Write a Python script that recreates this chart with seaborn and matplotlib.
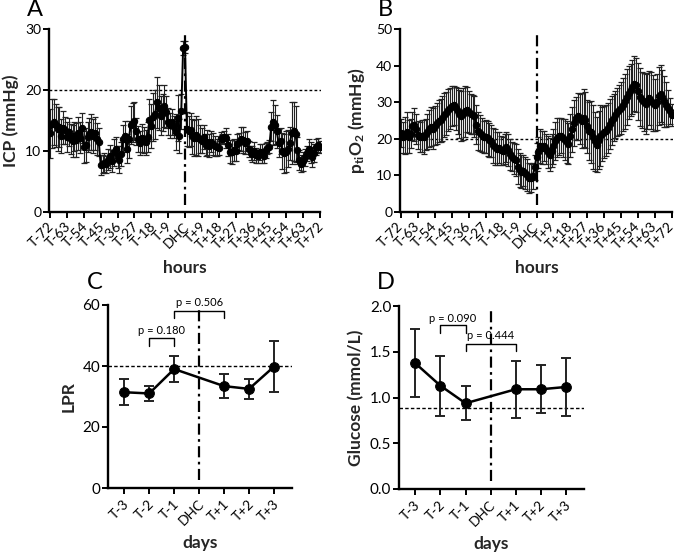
import numpy as np
import pandas as pd
import matplotlib
matplotlib.use("Agg")
import matplotlib.pyplot as plt
import matplotlib.transforms as mtransforms
import seaborn as sns

# ---------------- data ----------------
hours = list(range(-72, 73))
hour_ticks = list(range(-72, 73, 9))
hour_tick_labels = [("DHC" if h == 0 else (f"T{h}" if h < 0 else f"T+{h}")) for h in hour_ticks]

icp_mean = [
    12.9, 14.5, 14.8, 14.2, 13.6, 13.9, 12.5, 13.8, 13.4,
    12.3, 13.1, 12.0, 11.6, 12.4, 11.8, 12.9, 12.2, 13.8,
    10.6, 11.0, 12.3, 12.8, 13.1, 12.5, 12.9, 12.0, 11.4,
    7.7, 7.9, 8.1, 7.8, 8.6, 9.1, 8.4, 9.8, 10.3,
    9.0, 8.6, 9.5, 12.0, 12.5, 10.4, 11.9, 14.2, 14.6,
    14.9, 13.2, 12.0, 11.3, 12.2, 11.8, 11.4, 12.3, 15.1,
    14.1, 15.6, 16.0, 18.0, 17.1, 15.8, 16.3, 17.4, 16.4,
    14.8, 14.2, 14.8, 13.9, 13.1, 15.4, 12.4, 16.5, 26.9,
    27.1, 13.6, 13.2, 13.5, 12.4, 12.1, 12.6, 12.2, 11.9,
    11.7, 12.3, 11.0, 11.4, 10.9, 11.5, 11.2, 10.8, 10.6,
    10.5, 12.2, 12.0, 12.3, 12.1, 11.0, 9.9, 9.8, 10.1,
    10.0, 11.2, 11.5, 12.0, 11.8, 11.3, 11.6, 10.3, 9.7,
    9.5, 10.0, 9.3, 9.1, 9.8, 9.6, 9.2, 10.1, 10.5,
    10.7, 14.0, 14.7, 14.3, 13.2, 11.3, 11.6, 10.0, 9.6,
    9.9, 10.4, 11.3, 13.0, 13.2, 12.8, 10.1, 8.5, 7.9,
    8.3, 9.0, 9.6, 10.4, 9.8, 9.0, 9.7, 10.6, 11.0,
    10.7,
]
icp_err = [
    4.0, 4.0, 3.8, 3.5, 3.6, 3.3, 2.8, 2.7, 2.2,
    2.4, 2.3, 2.5, 2.6, 2.4, 2.8, 2.7, 2.6, 2.5,
    2.6, 2.8, 2.4, 2.6, 2.9, 2.8, 2.7, 2.6, 2.3,
    1.7, 1.5, 1.6, 1.4, 1.7, 1.9, 1.8, 2.2, 2.0,
    1.8, 2.2, 1.9, 2.2, 2.4, 2.4, 3.0, 3.1, 3.2,
    3.1, 2.2, 2.1, 2.0, 2.3, 2.2, 2.0, 2.5, 3.5,
    3.6, 3.9, 4.0, 4.2, 3.7, 3.2, 3.0, 3.4, 2.6,
    2.2, 2.0, 2.1, 1.8, 2.9, 3.8, 2.8, 2.9, 1.1,
    1.0, 2.8, 2.6, 2.7, 2.9, 3.0, 3.2, 3.0, 2.3,
    2.1, 1.9, 1.8, 2.0, 1.9, 1.7, 1.8, 1.6, 1.4,
    1.2, 0.9, 0.8, 1.0, 1.6, 1.8, 1.9, 2.0, 1.8,
    1.7, 1.6, 1.4, 2.0, 2.2, 1.8, 1.6, 1.3, 1.2,
    1.3, 1.4, 1.2, 1.1, 1.3, 1.5, 1.1, 1.2, 1.0,
    1.1, 2.4, 3.7, 3.2, 2.7, 2.3, 2.1, 2.9, 3.2,
    3.4, 3.0, 2.7, 5.1, 4.8, 4.6, 2.2, 1.6, 1.4,
    1.5, 1.4, 1.3, 1.6, 1.7, 1.6, 1.5, 1.3, 1.1,
    1.0,
]

pto2_mean = [
    21.5, 20.4, 20.9, 21.8, 20.5, 21.4, 23.5, 23.9, 22.6,
    21.0, 20.4, 20.8, 20.5, 21.2, 21.9, 22.8, 23.3, 22.7,
    23.6, 24.2, 24.8, 25.1, 25.6, 26.4, 27.0, 27.8, 28.3,
    28.9, 29.2, 28.3, 27.6, 26.8, 26.3, 26.9, 27.5, 28.0,
    27.3, 26.8, 26.6, 26.2, 23.9, 22.1, 21.5, 21.0, 20.5,
    20.6, 20.1, 19.7, 19.3, 18.2, 17.8, 17.3, 17.6, 16.9,
    16.6, 17.2, 17.8, 16.9, 15.8, 15.1, 14.6, 14.2, 12.4,
    11.5, 11.0, 11.3, 10.6, 10.1, 9.4, 9.2, 9.9, 12.2,
    15.0, 16.3, 18.1, 17.5, 18.0, 17.2, 16.4, 15.6, 16.8,
    17.9, 19.5, 20.3, 20.7, 20.9, 20.2, 19.8, 19.1, 18.7,
    20.8, 22.6, 24.3, 25.6, 26.1, 25.4, 24.9, 25.7, 25.2,
    23.4, 22.1, 21.8, 20.5, 19.3, 18.4, 19.6, 20.8, 21.3,
    21.9, 22.2, 23.0, 24.1, 25.0, 25.8, 26.6, 27.3, 27.8,
    28.4, 29.3, 30.2, 31.5, 32.6, 33.3, 34.1, 35.1, 34.6,
    33.0, 31.4, 30.6, 30.1, 29.5, 30.3, 31.2, 30.4, 29.8,
    29.2, 30.0, 31.6, 32.3, 31.4, 30.2, 29.3, 28.4, 27.6,
    26.5,
]
pto2_err = [
    3.8, 4.2, 5.0, 5.6, 4.5, 4.0, 3.9, 4.6, 4.1,
    3.8, 4.1, 4.4, 4.6, 4.3, 4.8, 5.1, 5.3, 5.6,
    5.4, 5.5, 5.8, 5.9, 6.1, 6.0, 5.9, 5.7, 5.6,
    5.4, 5.3, 5.8, 6.2, 6.5, 6.8, 7.1, 6.9, 6.2,
    5.8, 5.5, 5.3, 5.6, 5.4, 5.1, 4.9, 4.6, 4.3,
    4.5, 4.8, 4.6, 4.4, 4.7, 4.9, 4.5, 4.2, 4.0,
    3.8, 4.0, 4.1, 4.4, 4.2, 4.0, 4.3, 4.5, 4.7,
    4.6, 4.5, 4.2, 4.4, 4.3, 4.1, 3.8, 3.6, 3.4,
    3.9, 4.3, 4.7, 4.5, 4.2, 4.0, 4.3, 4.5, 4.6,
    4.9, 5.2, 5.4, 5.1, 4.9, 5.3, 5.6, 5.8, 5.5,
    5.9, 6.1, 6.3, 5.8, 6.4, 6.8, 7.5, 8.0, 7.6,
    7.2, 7.9, 8.4, 8.8, 8.1, 7.6, 7.9, 8.3, 7.5,
    7.1, 7.0, 6.8, 6.9, 6.7, 6.5, 6.4, 6.6, 6.8,
    7.0, 7.2, 7.4, 7.6, 7.3, 7.2, 7.4, 7.6, 7.4,
    7.8, 8.0, 7.6, 7.9, 8.1, 7.7, 7.4, 7.8, 7.6,
    7.1, 7.6, 7.9, 7.8, 7.3, 6.9, 6.1, 4.9, 3.5,
    3.1,
]

day_labels = ["T-3", "T-2", "T-1", "DHC", "T+1", "T+2", "T+3"]
day_pos = [0, 1, 2, 4, 5, 6]           # positions with data (DHC has none)
lpr_mean = [31.4, 31.0, 39.0, 33.4, 32.5, 39.8]
lpr_err = [4.2, 2.6, 4.2, 3.9, 3.3, 8.4]
glu_mean = [1.374, 1.129, 0.937, 1.090, 1.090, 1.115]
glu_err = [0.37, 0.33, 0.185, 0.31, 0.26, 0.315]

# ---------------- style ----------------
sns.set_theme(style="ticks")
plt.rcParams["font.family"] = ["Lato", "DejaVu Sans"]
plt.rcParams["mathtext.fontset"] = "custom"
plt.rcParams["mathtext.rm"] = "Lato"
plt.rcParams["mathtext.bf"] = "Lato:bold"
plt.rcParams["mathtext.it"] = "Lato:italic"

fig = plt.figure(figsize=(6.76, 5.52), dpi=100)
W, H = 676, 552


def px_axes(l, r, t, b):
    return fig.add_axes([l / W, 1 - b / H, (r - l) / W, (b - t) / H])


axA = px_axes(49, 321, 29, 212)
axB = px_axes(400, 673, 29, 212)
axC = px_axes(108, 292, 305, 488)
axD = px_axes(399, 584, 306, 489)

DASHDOT = (0, (5, 2, 1.2, 2))


def style_axes(ax):
    sns.despine(ax=ax)
    for s in ("left", "bottom"):
        ax.spines[s].set_linewidth(1.7)
        ax.spines[s].set_color("black")
    ax.tick_params(axis="both", direction="out", length=4, width=1.4,
                   color="black", labelsize=10, labelcolor="black", pad=1.5)
    ax.set_facecolor("white")


def shift_labels(ax, dx_pt, dy_pt=0):
    off = mtransforms.ScaledTranslation(dx_pt / 72, dy_pt / 72, fig.dpi_scale_trans)
    for lab in ax.get_xticklabels():
        lab.set_transform(lab.get_transform() + off)


def hourly(ax, mean, err, ylim, yticks, ylabel, hline, vtop, vbot, ylabel_x,
           lab_dx):
    df = pd.DataFrame({"hour": hours, "value": mean})
    ax.errorbar(hours, mean, yerr=err, fmt="none", ecolor="#222222",
                elinewidth=0.8, capsize=2.2, capthick=0.9, zorder=2)
    sns.lineplot(data=df, x="hour", y="value", ax=ax, color="black",
                 linewidth=1.4, marker="o", markersize=4.6,
                 markeredgecolor="black", zorder=3)
    ax.axhline(hline, color="black", lw=1.0, ls=(0, (2, 1.6)), zorder=1)
    ax.plot([0, 0], [vbot, vtop], color="black", lw=1.6, ls=DASHDOT, zorder=4)
    ax.set_xlim(-72.6, 72.6)
    ax.set_ylim(*ylim)
    ax.set_yticks(yticks)
    ax.set_xticks(hour_ticks)
    ax.set_xticklabels(hour_tick_labels, rotation=45, ha="right", va="center",
                       rotation_mode="anchor", fontsize=9)
    style_axes(ax)
    ax.tick_params(axis="x", pad=5)
    shift_labels(ax, lab_dx, 0)
    ax.spines["bottom"].set_bounds(-72, 72)
    ax.set_xlabel("hours", fontsize=12.5, fontweight="bold")
    ax.xaxis.set_label_coords(0.5, -0.265)
    ax.set_ylabel(ylabel, fontsize=12.5, fontweight="bold")
    ax.yaxis.set_label_coords(ylabel_x, 0.5)


hourly(axA, icp_mean, icp_err, (0, 30), [0, 10, 20, 30], "ICP (mmHg)", 20,
       29.5, 1.2, -0.11, 1.5)
hourly(axB, pto2_mean, pto2_err, (0, 50), [0, 10, 20, 30, 40, 50],
       r"$\mathbf{p_{ti}O_2}$ (mmHg)", 20, 48.8, 2.0, -0.12, 0.0)


def daily(ax, mean, err, ylim, yticks, ylabel, hline, vtop, vbot, brackets,
          ylabel_x, yfmt=None):
    df = pd.DataFrame({"day": day_pos, "value": mean})
    ax.errorbar(day_pos, mean, yerr=err, fmt="none", ecolor="#222222",
                elinewidth=1.4, capsize=3.8, capthick=1.4, zorder=2)
    sns.lineplot(data=df, x="day", y="value", ax=ax, color="black",
                 linewidth=1.8, marker="o", markersize=7,
                 markeredgecolor="black", zorder=3)
    ax.axhline(hline, color="black", lw=1.0, ls=(0, (2.5, 1.6)), zorder=1)
    ax.plot([3, 3], [vbot, vtop], color="black", lw=1.6, ls=DASHDOT, zorder=4)
    ax.set_xlim(-0.65, 6.72)
    ax.set_ylim(*ylim)
    ax.set_yticks(yticks)
    if yfmt:
        ax.set_yticklabels([yfmt.format(v) for v in yticks])
    ax.set_xticks(range(7))
    ax.set_xticklabels(day_labels, rotation=45, ha="right", va="center",
                       rotation_mode="anchor", fontsize=10)
    style_axes(ax)
    ax.tick_params(axis="x", pad=6)
    shift_labels(ax, 2.0, 0)
    ax.tick_params(axis="y", labelsize=11)
    ax.set_xlabel("days", fontsize=12.5, fontweight="bold")
    ax.xaxis.set_label_coords(0.5, -0.255)
    ax.set_ylabel(ylabel, fontsize=12.5, fontweight="bold")
    ax.yaxis.set_label_coords(ylabel_x, 0.5)
    for x0, x1, top, leg, txt, ty in brackets:
        ax.plot([x0, x0, x1, x1], [leg, top, top, leg], color="black", lw=1.0,
                zorder=5, clip_on=False)
        ax.text((x0 + x1) / 2, ty, txt, ha="center", va="center",
                fontsize=8, color="black", clip_on=False)


daily(axC, lpr_mean, lpr_err, (0, 60), [0, 20, 40, 60], "LPR", 40, 58.4, 2.6,
      [(1, 2, 49.1, 46.6, "p = 0.180", 51.6), (2, 4, 58.1, 55.6, "p = 0.506", 60.8)],
      -0.17)
daily(axD, glu_mean, glu_err, (0, 2.0), [0.0, 0.5, 1.0, 1.5, 2.0],
      "Glucose (mmol/L)", 0.882, 1.95, 0.09,
      [(1, 2, 1.79, 1.70, "p = 0.090", 1.865), (2, 4, 1.59, 1.508, "p = 0.444", 1.68)],
      -0.19, yfmt="{:.1f}")

for lab, x, y in [("A", 27, 9), ("B", 378, 10), ("C", 87, 283), ("D", 377, 283)]:
    fig.text(x / W, 1 - y / H, lab, fontsize=17, ha="left", va="center",
             color="black")

fig.savefig("out.png", dpi=100, facecolor="white")
